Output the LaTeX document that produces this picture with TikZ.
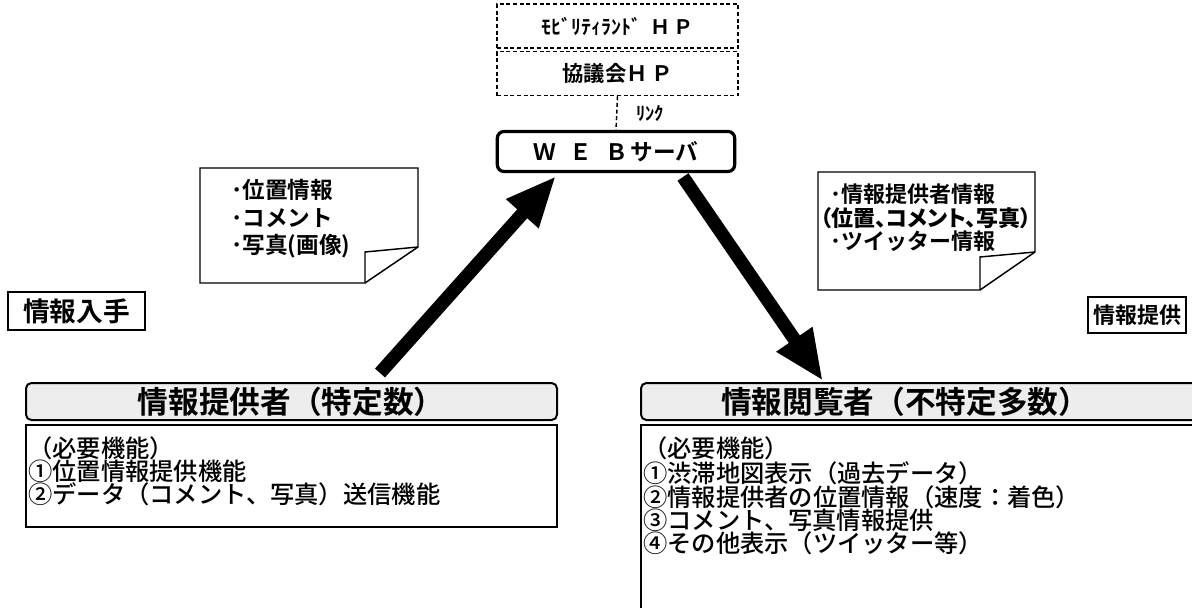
\documentclass[tikz,border=0pt]{standalone}
\usepackage{fontspec}
\setmainfont{Noto Sans CJK JP}[BoldFont={Noto Sans CJK JP Bold}]
\newfontfamily\jpmed{Noto Sans CJK JP Medium}
\newfontfamily\jppalt{Noto Sans CJK JP Bold}[RawFeature=+palt]
\usetikzlibrary{arrows.meta}
\tikzset{
  dashbox/.style={draw, dashed, dash pattern=on 3pt off 2pt, line width=1.1pt, minimum width=181pt, minimum height=33pt, inner sep=0pt},
  webbox/.style={draw, rounded corners=5pt, line width=2.4pt, minimum width=178pt, minimum height=30pt, inner sep=0pt},
  notetxt/.style={align=left, inner sep=0pt, anchor=north west, font=\fontsize{17}{20.6}\selectfont\bfseries},
  tagbox/.style={draw, line width=1.3pt, inner sep=0pt, font=\bfseries},
  titlebox/.style={draw, rounded corners=4pt, line width=1.5pt, fill=black!7, inner sep=0pt},
  contentbox/.style={draw, line width=1.3pt, inner sep=0pt},
  contenttxt/.style={align=left, inner sep=0pt, anchor=north west, font=\fontsize{18.2}{17.3}\selectfont\jpmed},
  bigarrow/.style={line width=10pt, -{Triangle[length=38pt,width=30pt]}},
  linkline/.style={dashed, dash pattern=on 3pt off 2pt, line width=1.1pt}
}
\begin{document}
\begin{tikzpicture}[x=0.75pt,y=-0.75pt]
\useasboundingbox (0,0) rectangle (1192,607);
% top dashed boxes
\node[dashbox] (mob) at (617.5,26) {\fontsize{15}{17}\selectfont\bfseries ﾓﾋﾞﾘﾃｨﾗﾝﾄﾞ\ \ Ｈ\,Ｐ};
\node[dashbox] (kyo) at (617.5,73.5) {\fontsize{16}{18}\selectfont\bfseries 協議会Ｈ\,Ｐ};
% web server
\node[webbox] (web) at (616,151.5) {\fontsize{17}{19}\selectfont\bfseries Ｗ\hspace{10pt}Ｅ\hspace{10pt}Ｂ\hspace{2pt}サーバ};
\draw[linkline] (kyo.south) -- (web.north);
\node[anchor=west, inner sep=0pt, font=\fontsize{14}{16}\selectfont\bfseries] (link) at (636,113) {ﾘﾝｸ};
% left note
\draw[line width=1.1pt] (200,168) -- (418,168) -- (418,247) -- (365,283) -- (200,283) -- cycle;
\draw[line width=1.1pt] (365,283) -- (365,252) -- (418,247);
\node[notetxt] (lnote) at (231,179) {･位置情報\\･コメント\\･写真(画像)};
% right note
\draw[line width=1.1pt] (818,172) -- (1035,172) -- (1035,252) -- (980,290) -- (818,290) -- cycle;
\draw[line width=1.1pt] (980,290) -- (980,257) -- (1035,252);
\node[notetxt, font=\fontsize{16.5}{17.3}\selectfont\bfseries] (rnote) at (820,184) {\hspace{8pt}･情報提供者情報\\{\jppalt （位置、コメント、写真）}\\\hspace{8pt}･ツイッター情報};
% tags
\node[tagbox, minimum width=103pt, minimum height=28.5pt, font=\fontsize{20}{22}\selectfont\bfseries] (nyu) at (76.5,311) {情報入手};
\node[tagbox, minimum width=74pt, minimum height=27pt, font=\fontsize{16.5}{18}\selectfont\bfseries] (tei) at (1137,315) {情報提供};
% title boxes
\draw[titlebox] (26,383) rectangle (557,420);
\node[font=\fontsize{23}{25}\selectfont\bfseries] (lt) at (291,402) {情報提供者（特定数）};
\draw[titlebox] (641,383) rectangle (1206,420);
\node[font=\fontsize{23}{25}\selectfont\bfseries] (rt) at (905,402) {情報閲覧者（不特定多数）};
% content boxes
\draw[contentbox] (26,425) rectangle (557,527);
\node[contenttxt] (lc) at (28,436.5) {（必要機能）\\①位置情報提供機能\\②データ（コメント、写真）送信機能};
\draw[contentbox] (641,425) rectangle (1206,620);
\node[contenttxt] (rc) at (643,436.5) {（必要機能）\\①渋滞地図表示（過去データ）\\②情報提供者の位置情報（速度：着色）\\③コメント、写真情報提供\\④その他表示（ツイッター等）};
% arrows
\coordinate (la) at (380,373);
\coordinate (lb) at (556,176);
\coordinate (ra) at (683,177);
\coordinate (rb) at (823,381);
\draw[bigarrow] (la) -- (lb);
\draw[bigarrow] (ra) -- (rb);
\end{tikzpicture}
\end{document}
